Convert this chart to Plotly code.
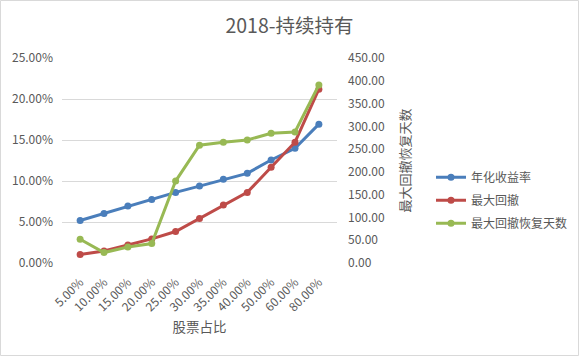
import plotly.graph_objects as go

categories = ["5.00%", "10.00%", "15.00%", "20.00%", "25.00%", "30.00%",
              "35.00%", "40.00%", "50.00%", "60.00%", "80.00%"]
annual_return = [0.0519, 0.0604, 0.0694, 0.0775, 0.0861, 0.0938,
                 0.1020, 0.1093, 0.1256, 0.1399, 0.1693]
max_drawdown = [0.0103, 0.0147, 0.0220, 0.0294, 0.0384, 0.0543,
                0.0706, 0.0861, 0.1167, 0.1473, 0.2120]
recovery_days = [52.2, 22.9, 35.2, 42.7, 179.9, 258.5,
                 265.0, 270.0, 284.8, 287.7, 391.0]
series_names = ["年化收益率", "最大回撤", "最大回撤恢复天数"]
left_ticks = [0, 0.05, 0.10, 0.15, 0.20, 0.25]
right_ticks = [0, 50, 100, 150, 200, 250, 300, 350, 400, 450]

FONT = "Noto Sans CJK SC, Microsoft YaHei, sans-serif"
GREY = "#595959"

fig = go.Figure()
fig.add_trace(go.Scatter(x=categories, y=annual_return, name=series_names[0],
                         legendgroup="g1",
                         mode="lines+markers", line=dict(color="#4a7ebb", width=3),
                         marker=dict(size=7, color="#4a7ebb")))
fig.add_trace(go.Scatter(x=categories, y=max_drawdown, name=series_names[1],
                         legendgroup="g2",
                         mode="lines+markers", line=dict(color="#be4b48", width=3),
                         marker=dict(size=7, color="#be4b48")))
fig.add_trace(go.Scatter(x=categories, y=recovery_days, name=series_names[2],
                         legendgroup="g3",
                         mode="lines+markers", line=dict(color="#98b954", width=3),
                         marker=dict(size=7, color="#98b954"), yaxis="y2"))

W, H = 579, 356
ml, mr, mt, mb = 62, 242, 58, 93
pw = W - ml - mr
ph = H - mt - mb

fig.update_layout(
    width=W, height=H,
    margin=dict(l=ml, r=mr, t=mt, b=mb, autoexpand=False),
    paper_bgcolor="white", plot_bgcolor="white",
    font=dict(family=FONT, color=GREY, size=12),
    title=dict(text="2018-持续持有", x=0.5, xref="container", xanchor="center",
               y=1 - 26 / H, yref="container", yanchor="middle", automargin=False,
               font=dict(size=19.5, color=GREY, family=FONT)),
    xaxis=dict(type="category", tickangle=-45, showgrid=False, showline=False,
               ticks="", tickfont=dict(size=12, color=GREY), automargin=False,
               ticklabelstandoff=9,
               title=dict(text="股票占比", font=dict(size=13.5, color=GREY), standoff=9)),
    yaxis=dict(range=[0, 0.25], tickvals=left_ticks, tickformat=".2%",
               showgrid=True, gridcolor="#d9d9d9", gridwidth=1, zeroline=False,
               showline=False, ticks="", ticklabelstandoff=8, automargin=False,
               tickfont=dict(size=12, color=GREY)),
    yaxis2=dict(range=[0, 450], tickvals=right_ticks, tickformat=".2f",
                overlaying="y", side="right", showgrid=False, zeroline=False,
                showline=False, ticks="", ticklabelstandoff=10, automargin=False,
                tickfont=dict(size=12, color=GREY),
                title=dict(text="最大回撤恢复天数", font=dict(size=13, color=GREY), standoff=16)),
    legend=dict(x=(431 - ml) / pw, y=(262.7 - 200) / ph, xanchor="left", yanchor="middle",
                font=dict(size=12, color=GREY), bgcolor="rgba(0,0,0,0)",
                itemwidth=30, tracegroupgap=4),
    showlegend=True,
)

fig.add_shape(type="rect", xref="paper", yref="paper",
              x0=-(ml - 0.5) / pw, x1=(W - ml - 0.5) / pw,
              y0=-(mb - 0.5) / ph, y1=(H - mb - 0.5) / ph,
              line=dict(color="#d9d9d9", width=1), fillcolor="rgba(0,0,0,0)", layer="below")

fig.write_html("out.html", config={"displayModeBar": False},
               post_script="document.body.style.margin='0';document.body.style.overflow='hidden';")
